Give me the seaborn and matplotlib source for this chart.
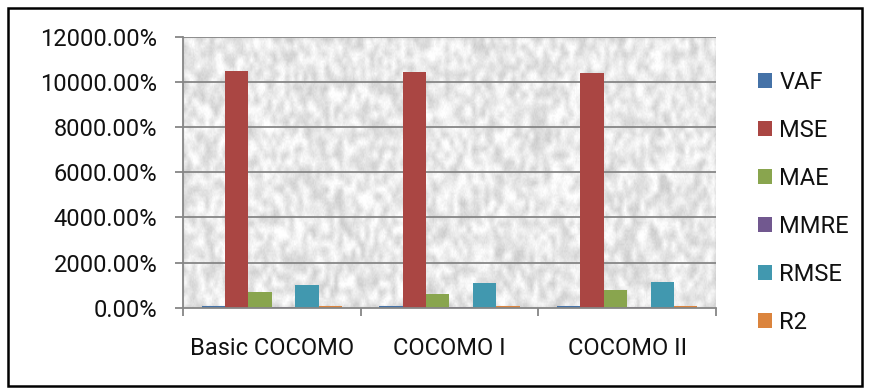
import numpy as np
import pandas as pd
import matplotlib
matplotlib.use("Agg")
import matplotlib.pyplot as plt
from matplotlib.patches import Rectangle, Patch
from matplotlib.ticker import FuncFormatter, FixedLocator
import seaborn as sns

# Chart data (values in percent)
models = ["Basic COCOMO", "COCOMO I", "COCOMO II"]
metrics = ["VAF", "MSE", "MAE", "MMRE", "RMSE", "R2"]
vaf = [90, 90, 90]
mse = [10490, 10460, 10390]
mae = [710, 610, 800]
mmre = [20, 20, 20]
rmse = [1020, 1110, 1140]
r2 = [90, 90, 90]

colors = ["#4572A7", "#AA4643", "#89A54E", "#71588F", "#4198AF", "#DB843D"]

rows = []
for name, vals in zip(metrics, [vaf, mse, mae, mmre, rmse, r2]):
    for m, v in zip(models, vals):
        rows.append({"model": m, "metric": name, "value": v})
df = pd.DataFrame(rows)

sns.set_theme(style="white")
plt.rcParams["font.family"] = ["Roboto", "DejaVu Sans"]
FS = 17

fig = plt.figure(figsize=(8.7, 3.92), dpi=100)
ax = fig.add_axes([183 / 870, 1 - 307.7 / 392, (716 - 183) / 870, (307.7 - 36.9) / 392])

# grainy light-grey backdrop of the plot area
rng = np.random.default_rng(7)
coarse = rng.random((40, 120))
fine = rng.random((160, 480))
cx = np.kron(coarse, np.ones((4, 4)))
k = np.ones(5) / 5
sm = np.apply_along_axis(lambda r: np.convolve(r, k, mode="same"), 1, cx)
sm = np.apply_along_axis(lambda c: np.convolve(c, k, mode="same"), 0, sm)
sm = (sm - sm.min()) / (sm.max() - sm.min())
tex = 0.78 + 0.22 * sm + 0.05 * fine
tex = np.clip(tex, 0, 1)
ax.imshow(tex, extent=(-0.5, 2.5, 0, 12000), aspect="auto", cmap="gray",
          vmin=0, vmax=1, zorder=0, interpolation="bilinear")

sns.barplot(data=df, x="model", y="value", hue="metric", hue_order=metrics,
            order=models, palette=colors, width=0.79, gap=0, dodge=True,
            saturation=1, errorbar=None, ax=ax, zorder=3, legend=False,
            linewidth=0)

ax.set_xlim(-0.5, 2.5)
ax.set_ylim(0, 12000)
ax.set_yticks(np.arange(0, 12001, 2000))
ax.yaxis.set_major_formatter(FuncFormatter(lambda v, p: f"{v:.2f}%"))
ax.set_xlabel("")
ax.set_ylabel("")

grid_c = "#868686"
for y in np.arange(2000, 12001, 2000):
    ax.axhline(y, color=grid_c, lw=1.3, zorder=1)

for s in ["top", "right"]:
    ax.spines[s].set_visible(False)
for s in ["left", "bottom"]:
    ax.spines[s].set_color(grid_c)
    ax.spines[s].set_linewidth(1.3)
    ax.spines[s].set_zorder(4)

ax.tick_params(axis="y", which="major", direction="out", length=5.5, width=1.3,
               color=grid_c, pad=13, labelsize=FS, left=True, labelcolor="#111111")
ax.tick_params(axis="x", which="major", length=0, pad=21, labelsize=FS,
               labelcolor="#111111")
ax.xaxis.set_minor_locator(FixedLocator([-0.5, 0.5, 1.5, 2.5]))
ax.tick_params(axis="x", which="minor", direction="out", length=5.5, width=1.3,
               color=grid_c, bottom=True)

handles = [Patch(facecolor=c, edgecolor="none", label=m) for c, m in zip(colors, metrics)]
leg = fig.legend(handles=handles, loc="upper left",
                 bbox_to_anchor=(758 / 870, 1 - 71 / 392),
                 frameon=False, fontsize=FS, handlelength=0.6, handleheight=0.6,
                 handletextpad=0.3, labelspacing=1.06, borderaxespad=0, borderpad=0)
for t in leg.get_texts():
    t.set_color("#111111")

fig.patches.append(Rectangle((8 / 870, 1 - 386 / 392), 854 / 870, 378 / 392,
                             transform=fig.transFigure, fill=False,
                             edgecolor="black", linewidth=1.8))

fig.savefig("out.png", dpi=100)
